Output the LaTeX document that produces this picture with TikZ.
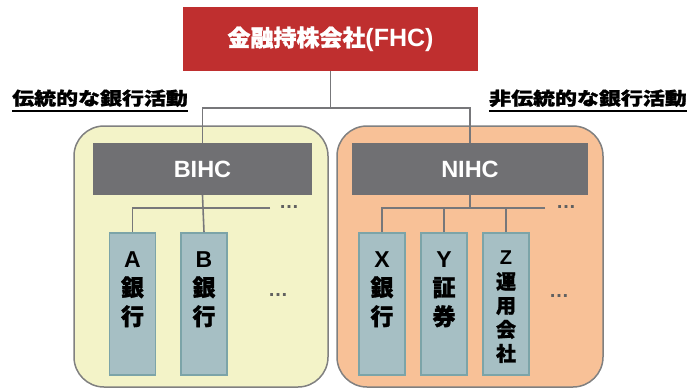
\documentclass[tikz,border=0pt]{standalone}
\usepackage{fontspec}
\usepackage{graphicx}
\setmainfont{Liberation Sans}
\newfontfamily\jp{Noto Sans CJK JP}[BoldFeatures={FakeBold=1.2}]
\definecolor{fhcred}{HTML}{BF2F2F}
\definecolor{hcgray}{HTML}{707073}
\definecolor{lineg}{HTML}{77777A}
\definecolor{yelfill}{HTML}{F3F3C8}
\definecolor{peachfill}{HTML}{F8C197}
\definecolor{contborder}{HTML}{808080}
\definecolor{bankfill}{HTML}{A6BFC4}
\definecolor{bankborder}{HTML}{7CA4A8}
\definecolor{dotg}{HTML}{606060}
\tikzset{
  conn/.style={draw=lineg, line width=1.6pt},
  container/.style={draw=contborder, line width=1.5pt, rounded corners=30pt},
  hcbox/.style={fill=hcgray, draw=none, minimum height=52pt, text=white, font=\bfseries\fontsize{23.5}{28}\selectfont, inner sep=0pt},
  bankbox/.style={fill=bankfill, draw=bankborder, line width=1.8pt, minimum width=46pt, minimum height=142pt, inner sep=0pt},
  banktext/.style={anchor=north, inner sep=0pt, align=center, font=\bfseries\fontsize{23}{29}\selectfont},
  dots/.style={text=dotg, font=\bfseries\fontsize{20}{20}\selectfont, inner sep=0pt},
  toplabel/.style={inner sep=0pt, font=\bfseries\fontsize{18}{20}\selectfont}
}
\begin{document}
\begin{tikzpicture}[x=1pt,y=-1pt]
\useasboundingbox (0,0) rectangle (689,389);
% containers
\draw[container, fill=yelfill] (74,126) rectangle (328,387);
\draw[container, fill=peachfill] (337,126) rectangle (603,387);
% top
\node[fill=fhcred, minimum width=295pt, minimum height=64pt, inner sep=0pt, text=white] (fhc) at (330.5,39)
  {\bfseries{\jp\fontsize{23}{28}\selectfont 金融持株会社}\fontsize{25}{28}\selectfont(FHC)};
\coordinate (j) at (330.5,108);
% labels
\node[toplabel, anchor=base west] (l1) at (12,105) {\scalebox{1.22}[1]{\jp 伝統的な銀行活動}};
\node[toplabel, anchor=base east] (l2) at (687,105) {\scalebox{1.22}[1]{\jp 非伝統的な銀行活動}};
\draw[line width=1.8pt] (l1.west |- 0,111) -- (l1.east |- 0,111);
\draw[line width=1.8pt] (l2.west |- 0,111) -- (l2.east |- 0,111);
% holding companies
\node[hcbox, minimum width=219pt] (bihc) at (202.5,169) {BIHC};
\node[hcbox, minimum width=236pt] (nihc) at (470,169) {NIHC};
\draw[conn] (fhc.south) -- (j);
\draw[conn] (j) -| (bihc.north);
\draw[conn] (j) -| (nihc.north);
% banks left
\node[bankbox] (a) at (132.5,304) {};
\node[bankbox] (b) at (204,304) {};
\node[banktext] (at) at (132.5,251) {A\\{\jp 銀}\\{\jp 行}};
\node[banktext] (bt) at (204,251) {B\\{\jp 銀}\\{\jp 行}};
\coordinate (jl) at (203,208);
\coordinate (jlend) at (270,208);
\draw[conn] (bihc.south |- 0,195) -- (jl);
\draw[conn] (jlend) -- (jl) -| (a.north);
\draw[conn] (jl) -- (b.north);
\node[dots] (dl1) at (289,207) {…};
\node[dots] (dl2) at (278,295) {…};
% banks right
\node[bankbox] (x) at (382,304) {};
\node[bankbox] (y) at (444,304) {};
\node[bankbox] (z) at (506,304) {};
\node[banktext] (xt) at (382,251) {X\\{\jp 銀}\\{\jp 行}};
\node[banktext] (yt) at (444,251) {Y\\{\jp 証}\\{\jp 券}};
\node[banktext, font=\bfseries\fontsize{20}{24}\selectfont] (zt) at (506,251) {Z\\{\jp 運}\\{\jp 用}\\{\jp 会}\\{\jp 社}};
\coordinate (jr) at (470,208);
\coordinate (jrend) at (545,208);
\draw[conn] (nihc.south) -- (jr);
\draw[conn] (jrend) -- (jr) -| (x.north);
\draw[conn] (jr) -| (z.north);
\draw[conn] (y.north) -- (y.north |- jr);
\node[dots] (dr1) at (566,207) {…};
\node[dots] (dr2) at (559,296) {…};
\end{tikzpicture}
\end{document}
